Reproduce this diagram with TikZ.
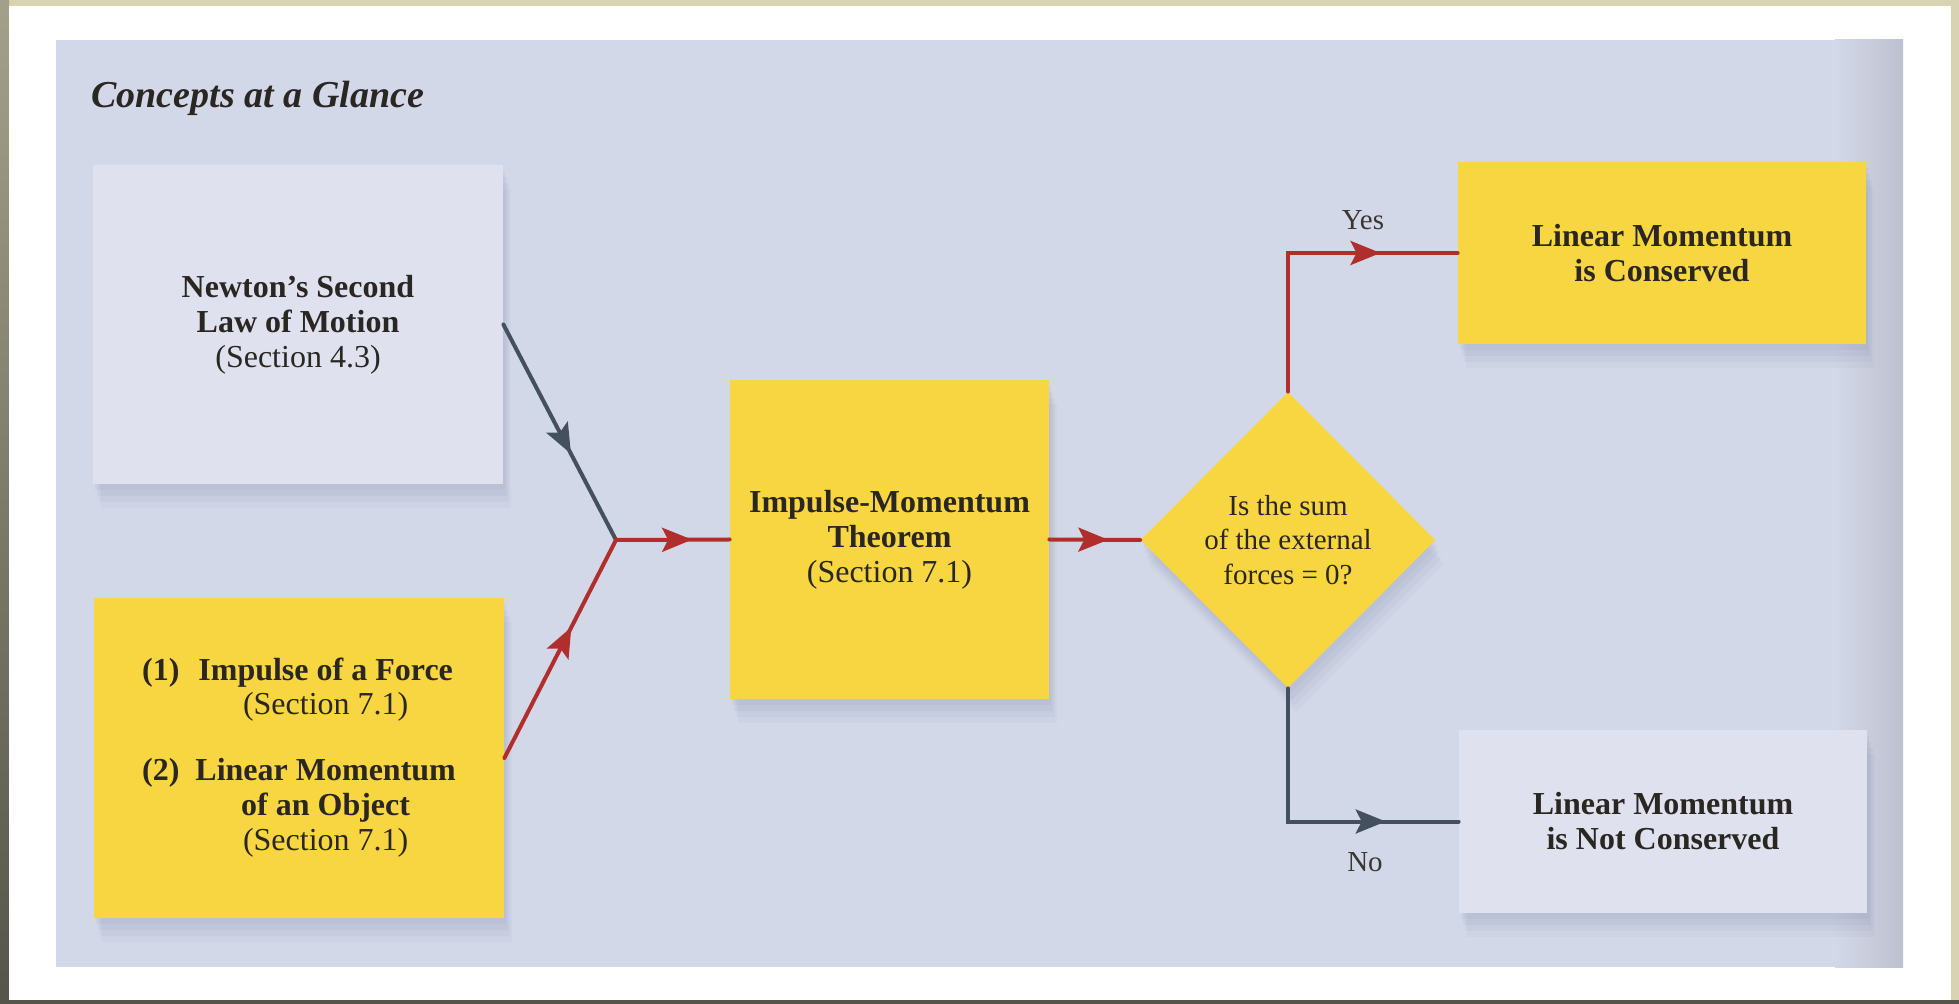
\documentclass[tikz,border=0pt]{standalone}
\usepackage{fontspec}
\setmainfont{Liberation Serif}
\usetikzlibrary{shapes.geometric,arrows.meta,decorations.markings,shadows}

\definecolor{tanbg}{HTML}{D8D3B2}
\definecolor{darkedge}{HTML}{55554C}
\definecolor{panel}{HTML}{D3D8E8}
\definecolor{panelshade}{HTML}{BDC0CE}
\definecolor{boxyellow}{HTML}{F8D641}
\definecolor{boxlight}{HTML}{DFE2EE}
\definecolor{arrowred}{HTML}{B02E2B}
\definecolor{arrowgray}{HTML}{44505C}
\definecolor{inkc}{HTML}{2A2622}
\definecolor{labelc}{HTML}{3A3632}
\definecolor{shadowc}{HTML}{5A6290}

\begin{document}
\begin{tikzpicture}[x=0.5pt,y=-0.5pt,
  softshadow/.style={
    drop shadow={shadow xshift=1pt,shadow yshift=-3pt,opacity=0.06,fill=shadowc},
    drop shadow={shadow xshift=2pt,shadow yshift=-6pt,opacity=0.06,fill=shadowc},
    drop shadow={shadow xshift=3pt,shadow yshift=-9pt,opacity=0.05,fill=shadowc},
    drop shadow={shadow xshift=4pt,shadow yshift=-12pt,opacity=0.04,fill=shadowc}},
  box/.style={rectangle, inner sep=0pt, align=center, text=inkc,
    font=\fontsize{16}{17.5}\selectfont, softshadow},
  ybox/.style={box, fill=boxyellow},
  lbox/.style={box, fill=boxlight},
  redline/.style={draw=arrowred, line width=2pt, line cap=round},
  grayline/.style={draw=arrowgray, line width=2pt, line cap=round},
  midarrow/.style 2 args={postaction={decorate}, decoration={markings,
    mark=at position #1 with {\arrow{Stealth[length=15pt,width=12pt,inset=3pt,color=#2]}}}},
  lbl/.style={font=\fontsize{14.5}{17}\selectfont, text=labelc, inner sep=0pt}
 ]
\useasboundingbox (0,0) rectangle (1959,1004);
% page frame
\fill[tanbg] (0,0) rectangle (1959,1004);
\shade[top color=tanbg!60!darkedge, bottom color=darkedge] (0,0) rectangle (9,1004);
\fill[white] (9,6) rectangle (1951,1000);
\fill[darkedge] (0,1000) rectangle (1959,1004);
% panel
\fill[panel] (56,40) rectangle (1903,967);
\shade[left color=panel, right color=panelshade] (1835,40) rectangle (1903,967);

% title
\node[anchor=base west, font=\fontsize{19}{22}\selectfont\bfseries\itshape, text=inkc, inner sep=0pt]
  (title) at (91,108) {Concepts at a Glance};

% boxes
\node[lbox, minimum width=205pt, minimum height=159.5pt] (newton) at (298,324.5)
  {\textbf{Newton's Second}\\\textbf{Law of Motion}\\(Section 4.3)};
\node[ybox, minimum width=205pt, minimum height=160pt] (imp2) at (299,758)
  {\renewcommand{\arraystretch}{1}%
   \begin{tabular}{@{}r@{\hspace{8pt}}c@{}}
   \textbf{(1)} & \textbf{Impulse of a Force}\\
                & (Section 7.1)\\[15pt]
   \textbf{(2)} & \textbf{Linear Momentum}\\
                & \textbf{of an Object}\\
                & (Section 7.1)
   \end{tabular}};
\node[ybox, minimum width=159.5pt, minimum height=159.5pt] (imt) at (889.5,539.5)
  {\textbf{Impulse-Momentum}\\\textbf{Theorem}\\(Section 7.1)};
\node[diamond, aspect=1, fill=boxyellow, inner sep=0pt, minimum width=147.5pt, minimum height=148pt,
  align=center, text=inkc, font=\fontsize{14.5}{17.25}\selectfont, softshadow]
  (dec) at (1288,540) {Is the sum\\of the external\\forces = 0?};
\node[ybox, minimum width=204pt, minimum height=91pt] (yes) at (1662,253)
  {\textbf{Linear Momentum}\\\textbf{is Conserved}};
\node[lbox, minimum width=204pt, minimum height=91.5pt] (no) at (1663,821.5)
  {\textbf{Linear Momentum}\\\textbf{is Not Conserved}};

% connectors
\coordinate (j) at (616,540);
\draw[grayline, midarrow={0.6}{arrowgray}] (newton.east) -- (j);
\draw[redline, midarrow={0.6}{arrowred}] (imp2.east) -- (j);
\draw[redline, midarrow={0.67}{arrowred}] (j) -- (imt.west);
\draw[redline, midarrow={0.65}{arrowred}] (imt.east) -- (dec.west);
\draw[redline, line join=miter, midarrow={0.75}{arrowred}] (dec.north) |- (yes.west);
\draw[grayline, line join=miter, midarrow={0.76}{arrowgray}] (dec.south) |- (no.west);

% labels
\node[lbl] (lyes) at (1363,220) {Yes};
\node[lbl] (lno) at (1365,862) {No};
\end{tikzpicture}
\end{document}
